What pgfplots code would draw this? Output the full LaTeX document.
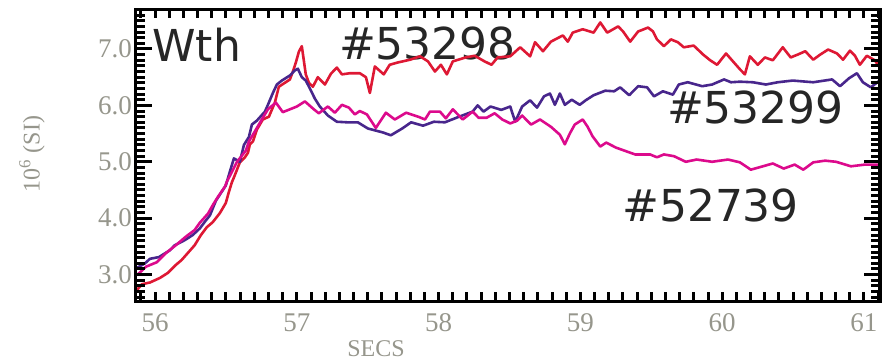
\documentclass[border=0pt]{standalone}
\usepackage{fontspec}
\setmainfont{Liberation Serif}
\newfontfamily\labelsans{DejaVu Sans}
\usepackage{pgfplots}
\pgfplotsset{compat=1.18}

\definecolor{shotA}{RGB}{222,24,52}   % #53298
\definecolor{shotB}{RGB}{72,38,140}   % #53299
\definecolor{shotC}{RGB}{220,10,140}  % #52739
\definecolor{lbl}{RGB}{150,150,140}

\pgfplotsset{
  wthframe/.style={
    scale only axis, width=744.5pt, height=292pt,
    at={(0pt,0pt)}, anchor=south west,
    xmin=55.862, xmax=61.113, ymin=2.523, ymax=7.70,
    axis line style={line width=3.5pt},
    tick style={line width=3pt, black},
    tick align=inside,
    xtick={56,57,58,59,60,61},
    minor xtick={55.9,56.1,56.2,56.3,56.4,56.5,56.6,56.7,56.8,56.9,
                 57.1,57.2,57.3,57.4,57.5,57.6,57.7,57.8,57.9,
                 58.1,58.2,58.3,58.4,58.5,58.6,58.7,58.8,58.9,
                 59.1,59.2,59.3,59.4,59.5,59.6,59.7,59.8,59.9,
                 60.1,60.2,60.3,60.4,60.5,60.6,60.7,60.8,60.9,61.1},
    ytick={3,4,5,6,7},
    minor ytick={2.6,2.7,2.8,2.9,3.1,3.2,3.3,3.4,3.5,3.6,3.7,3.8,3.9,
                 4.1,4.2,4.3,4.4,4.5,4.6,4.7,4.8,4.9,
                 5.1,5.2,5.3,5.4,5.5,5.6,5.7,5.8,5.9,
                 6.1,6.2,6.3,6.4,6.5,6.6,6.7,6.8,6.9,7.1,7.2,7.3,7.4,7.5,7.6},
  },
  shot/.style={line width=2.6pt, line join=round, mark=none},
}

\begin{document}
\begin{tikzpicture}
\path[use as bounding box] (-135.5pt,-61.5pt) rectangle (754.5pt,301.5pt);

% data, labels and the short ticks
\begin{axis}[wthframe,
  major tick length=9pt, minor tick length=5pt,
  /pgf/number format/assume math mode=true,
  tick label style={font=\fontsize{27}{27}\selectfont, text=lbl},
  xticklabel style={yshift=-9pt},
  yticklabel style={/pgf/number format/.cd, fixed, fixed zerofill, precision=1},
  xlabel={SECS},
  xlabel style={font=\fontsize{24}{24}\selectfont, text=lbl, inner sep=0pt,
    at={(axis description cs:0.323,-0.190)}, anchor=base},
  ylabel={10\textsuperscript{6} (SI)},
  ylabel style={font=\fontsize{24}{24}\selectfont, text=lbl,
    at={(axis description cs:-0.139,0.505)}, anchor=center},
]
\node[anchor=base west, inner sep=0, font=\labelsans\fontsize{44}{44}\selectfont, text=black!85] at (axis cs:55.979,6.77) {Wth};
\node[anchor=base west, inner sep=0, font=\labelsans\fontsize{44}{44}\selectfont, text=black!85] at (axis cs:57.296,6.805) {\#53298};
\node[anchor=base west, inner sep=0, font=\labelsans\fontsize{44}{44}\selectfont, text=black!85] at (axis cs:59.610,5.683) {\#53299};
\node[anchor=base west, inner sep=0, font=\labelsans\fontsize{44}{44}\selectfont, text=black!85] at (axis cs:59.293,3.938) {\#52739};

% #53298
\addplot[shot, shotA] coordinates {
(55.873,2.73) (55.908,2.83) (55.964,2.86) (56.034,2.94) (56.090,3.03)
(56.146,3.17) (56.188,3.26) (56.230,3.38) (56.279,3.52) (56.323,3.70)
(56.365,3.84) (56.407,3.93) (56.457,4.09) (56.499,4.27) (56.520,4.46)
(56.541,4.63) (56.570,4.81) (56.598,4.99) (56.634,5.08) (56.655,5.16)
(56.669,5.31) (56.690,5.36) (56.718,5.57) (56.760,5.75) (56.803,5.80)
(56.845,6.05) (56.873,6.33) (56.915,6.40) (56.951,6.46) (56.972,6.60)
(56.993,6.76) (57.014,6.95) (57.035,7.05) (57.049,6.80) (57.063,6.55)
(57.085,6.40) (57.113,6.33) (57.148,6.50) (57.198,6.37) (57.240,6.56)
(57.282,6.67) (57.318,6.55) (57.374,6.57) (57.444,6.57) (57.487,6.50)
(57.515,6.22) (57.550,6.69) (57.613,6.55) (57.655,6.72) (57.711,6.76)
(57.799,6.81) (57.869,6.87) (57.925,6.78) (57.974,6.60) (58.016,6.72)
(58.058,6.55) (58.100,6.78) (58.191,6.85) (58.254,6.88) (58.324,6.78)
(58.373,6.72) (58.416,6.85) (58.505,6.87) (58.575,7.03) (58.645,6.87)
(58.680,7.12) (58.736,6.96) (58.792,7.13) (58.876,7.24) (58.911,7.13)
(58.946,7.29) (59.016,7.35) (59.093,7.29) (59.140,7.47) (59.189,7.29)
(59.266,7.40) (59.301,7.31) (59.351,7.13) (59.407,7.31) (59.477,7.38)
(59.512,7.31) (59.540,7.17) (59.589,7.05) (59.638,7.17) (59.687,7.12)
(59.729,7.03) (59.799,7.06) (59.866,6.90) (59.915,6.80) (59.964,6.72)
(60.027,6.92) (60.083,6.76) (60.125,6.64) (60.160,6.55) (60.195,6.87)
(60.251,6.72) (60.301,6.85) (60.357,6.80) (60.427,7.03) (60.483,6.85)
(60.532,6.90) (60.586,6.96) (60.642,6.81) (60.691,6.90) (60.747,6.99)
(60.810,6.92) (60.852,6.81) (60.901,6.97) (60.936,6.88) (60.971,6.72)
(61.020,6.88) (61.076,6.80) (61.110,6.68)
};

% #53299
\addplot[shot, shotB] coordinates {
(55.873,3.12) (55.929,3.20) (55.964,3.28) (56.027,3.31) (56.104,3.43)
(56.139,3.52) (56.209,3.61) (56.265,3.70) (56.316,3.82) (56.358,3.96)
(56.387,4.05) (56.429,4.31) (56.499,4.58) (56.527,4.82) (56.556,5.06)
(56.598,5.00) (56.627,5.30) (56.662,5.44) (56.683,5.66) (56.718,5.73)
(56.775,5.89) (56.796,6.01) (56.831,6.22) (56.859,6.37) (56.894,6.44)
(56.951,6.53) (56.986,6.62) (57.007,6.65) (57.035,6.50) (57.063,6.44)
(57.092,6.30) (57.127,6.12) (57.162,5.98) (57.219,5.82) (57.282,5.71)
(57.353,5.70) (57.430,5.70) (57.501,5.59) (57.607,5.52) (57.663,5.47)
(57.743,5.59) (57.806,5.70) (57.890,5.64) (57.967,5.71) (58.044,5.70)
(58.135,5.79) (58.240,5.89) (58.275,6.00) (58.317,5.89) (58.366,5.98)
(58.442,5.92) (58.505,5.98) (58.540,5.71) (58.589,5.98) (58.645,6.09)
(58.694,5.96) (58.743,6.16) (58.785,6.21) (58.820,6.01) (58.855,6.21)
(58.890,6.01) (58.939,6.10) (58.995,6.01) (59.037,6.09) (59.093,6.18)
(59.175,6.26) (59.238,6.25) (59.280,6.32) (59.344,6.18) (59.407,6.34)
(59.470,6.32) (59.519,6.16) (59.582,6.25) (59.652,6.19) (59.694,6.37)
(59.757,6.41) (59.859,6.34) (59.929,6.37) (60.013,6.46) (60.062,6.41)
(60.125,6.42) (60.216,6.41) (60.308,6.37) (60.392,6.41) (60.497,6.44)
(60.642,6.41) (60.775,6.46) (60.831,6.34) (60.894,6.48) (60.950,6.57)
(60.992,6.41) (61.048,6.32) (61.110,6.44)
};

% #52739
\addplot[shot, shotC] coordinates {
(55.873,2.99) (55.936,3.14) (56.013,3.22) (56.076,3.38) (56.146,3.52)
(56.216,3.67) (56.279,3.79) (56.316,3.92) (56.373,4.08) (56.409,4.24)
(56.444,4.38) (56.493,4.56) (56.507,4.65) (56.542,4.82) (56.578,5.00)
(56.641,5.20) (56.662,5.36) (56.711,5.57) (56.760,5.78) (56.796,5.93)
(56.852,6.05) (56.901,5.88) (56.951,5.93) (57.000,5.98) (57.057,6.07)
(57.120,5.93) (57.155,5.86) (57.219,5.98) (57.268,5.87) (57.318,6.01)
(57.367,5.96) (57.409,5.84) (57.444,5.90) (57.494,5.84) (57.557,5.60)
(57.628,5.87) (57.691,5.75) (57.771,5.87) (57.855,5.80) (57.904,5.75)
(57.939,5.89) (58.009,5.89) (58.051,5.77) (58.100,5.93) (58.170,5.75)
(58.240,5.89) (58.282,5.78) (58.338,5.78) (58.395,5.86) (58.449,5.75)
(58.505,5.68) (58.554,5.73) (58.589,5.82) (58.652,5.66) (58.715,5.75)
(58.792,5.62) (58.855,5.48) (58.890,5.31) (58.925,5.50) (58.960,5.66)
(59.016,5.75) (59.051,5.62) (59.086,5.45) (59.140,5.27) (59.182,5.34)
(59.252,5.25) (59.386,5.13) (59.491,5.13) (59.540,5.08) (59.589,5.13)
(59.659,5.10) (59.743,5.00) (59.820,5.04) (59.929,5.00) (60.041,5.04)
(60.125,4.99) (60.202,4.86) (60.287,4.92) (60.357,4.97) (60.434,4.88)
(60.511,4.95) (60.572,4.86) (60.642,4.99) (60.726,5.02) (60.803,5.00)
(60.908,4.92) (61.006,4.95) (61.110,4.95)
};
\end{axis}

% longer y ticks over the same frame
\begin{axis}[wthframe,
  xmajorticks=false, xminorticks=false, xticklabels={}, yticklabels={},
  major tick length=16pt, minor tick length=9pt,
]
\end{axis}
\end{tikzpicture}
\end{document}
